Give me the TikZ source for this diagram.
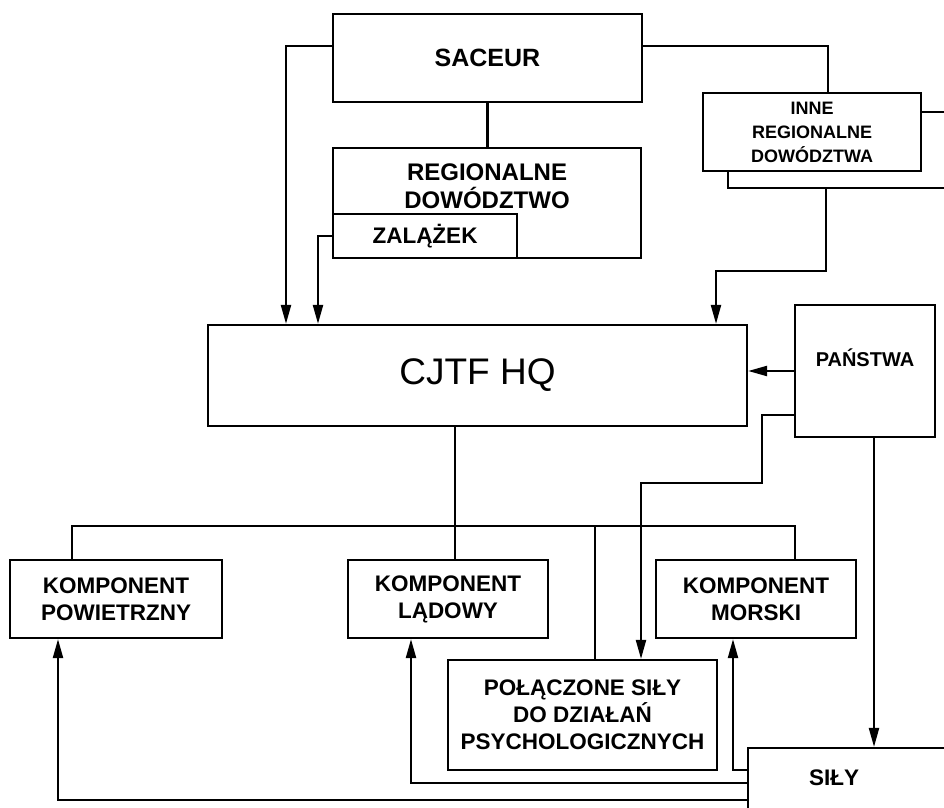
\documentclass[tikz,border=0pt]{standalone}
\usepackage{fontspec}
\setmainfont{Liberation Sans}
\usetikzlibrary{positioning, arrows.meta}

\begin{document}
\begin{tikzpicture}[x=1pt, y=-1pt, line width=2.2pt,
    box/.style={draw, fill=white, align=center, inner sep=0pt,
      font=\fontsize{22.5}{27}\selectfont\bfseries},
    lbl/.style={align=center, font=\fontsize{22.5}{27}\selectfont\bfseries},
    arr/.style={-{Triangle[length=19pt, width=10pt]}}]
    \useasboundingbox (0,0) rectangle (944,807);
    \clip (0,0) rectangle (944,807);

    % top level
    \node[box, minimum width=309pt, minimum height=88pt,
      font=\fontsize{25}{30}\selectfont\bfseries] (saceur) at (487.5,58) {SACEUR};
    \node[box, minimum width=308pt, minimum height=110pt,
      label={[lbl, yshift=17pt, font=\fontsize{24}{28}\selectfont\bfseries]center:REGIONALNE\\DOWÓDZTWO}]
      (regdow) at (487,203) {};
    \node[box, minimum width=184pt, minimum height=44pt] (zalazek) at (425,236) {ZALĄŻEK};

    \node[box, minimum width=232pt, minimum height=76pt] (inne-tlo) at (844,150) {};
    \node[box, minimum width=218pt, minimum height=78pt,
      font=\fontsize{18}{24}\selectfont\bfseries] (inne) at (812,132)
      {INNE\\REGIONALNE\\DOWÓDZTWA};

    % CJTF
    \node[box, minimum width=539pt, minimum height=101pt,
      font=\fontsize{37}{40}\selectfont] (cjtf) at (477.5,375.5) {CJTF HQ};
    \node[box, minimum width=140pt, minimum height=132pt,
      label={[lbl, yshift=13pt, font=\fontsize{20}{24}\selectfont\bfseries]center:PAŃSTWA}]
      (panstwa) at (865,371) {};

    % components
    \node[box, minimum width=212pt, minimum height=78pt] (powietrzny) at (116,599)
      {KOMPONENT\\POWIETRZNY};
    \node[box, minimum width=200pt, minimum height=78pt] (ladowy) at (448,599)
      {KOMPONENT\\LĄDOWY};
    \node[box, minimum width=200pt, minimum height=78pt] (morski) at (756,599)
      {KOMPONENT\\MORSKI};
    \node[box, minimum width=269pt, minimum height=110pt] (polaczone) at (582.5,715)
      {POŁĄCZONE SIŁY\\DO DZIAŁAŃ\\PSYCHOLOGICZNYCH};
    \node[box, minimum width=212pt, minimum height=84pt,
      label={[lbl, xshift=-20pt, yshift=12pt]center:SIŁY}]
      (sila) at (854,790) {};

    % connectors from the top
    \draw[arr] ([yshift=12pt]saceur.west) -| ([xshift=-191.5pt]cjtf.north);
    \draw ([yshift=12pt]saceur.east) -| ([xshift=16pt]inne.north);
    \draw (saceur.south) -- (saceur.south |- regdow.north);
    \draw[arr] (zalazek.west) -| ([xshift=-159.5pt]cjtf.north);
    \draw[arr] ([xshift=-18pt]inne-tlo.south) -- ++(0,82)
      -| ([xshift=238.5pt]cjtf.north);

    % from PANSTWA
    \draw[arr] (panstwa.west) -- (panstwa.west -| cjtf.east);
    \draw[arr] ([yshift=-44pt]panstwa.west) -- ++(-32,0) -- ++(0,68)
      -| ([xshift=58.5pt]polaczone.north);
    \draw[arr] ([xshift=9pt]panstwa.south) -- ([xshift=9pt]panstwa.south |- sila.north);

    % CJTF to components
    \draw ([xshift=-22.5pt]cjtf.south) -- ([xshift=-22.5pt]cjtf.south |- ladowy.north);
    \draw ([xshift=-44pt]powietrzny.north) -- ++(0,-33) -| ([xshift=39pt]morski.north);
    \draw ([xshift=12.5pt]polaczone.north) -- ++(0,-133);

    % from SILY
    \draw[arr] ([yshift=20pt]sila.west) -| ([xshift=-23pt]morski.south);
    \draw[arr] ([yshift=7pt]sila.west) -| ([xshift=-37pt]ladowy.south);
    \draw[arr] ([yshift=-10pt]sila.west) -| ([xshift=-58pt]powietrzny.south);
\end{tikzpicture}
\end{document}
